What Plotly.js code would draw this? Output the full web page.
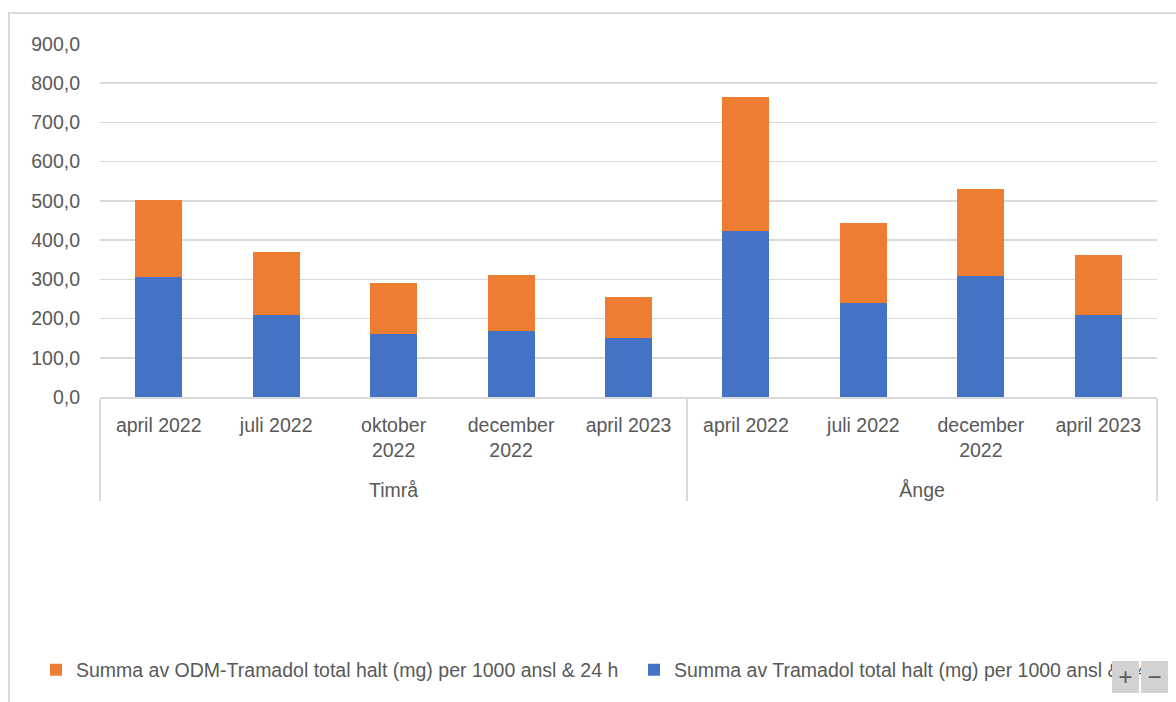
<!DOCTYPE html>
<html>
<head>
<meta charset="utf-8">
<script src="https://cdn.plot.ly/plotly-3.0.1.min.js"></script>
<style>
  html, body { margin: 0; padding: 0; background: #ffffff; }
  #wrap { position: relative; width: 1176px; height: 702px; overflow: hidden; }
  #frame { position: absolute; left: 8px; top: 12px; width: 1300px; height: 800px; border: 2px solid #d9d9d9; box-sizing: border-box; }
  #chart { position: absolute; left: 0; top: 0; width: 1176px; height: 702px; }
  .zbtn { position: absolute; top: 661px; width: 27px; height: 32px; background: #d2d2d2;
          color: #5a5a5a; font: 24px "Liberation Sans", Arial, sans-serif; line-height: 32px; text-align: center; }
</style>
</head>
<body>
<div id="wrap">
  <div id="frame"></div>
  <div id="chart"></div>
  <div class="zbtn" style="left:1112px;">+</div>
  <div class="zbtn" style="left:1141px;">−</div>
</div>
<script>
// Data
const sites = ['Timrå', 'Timrå', 'Timrå', 'Timrå', 'Timrå', 'Ånge', 'Ånge', 'Ånge', 'Ånge'];
const periods = ['april 2022', 'juli 2022', 'oktober<br>2022', 'december<br>2022', 'april 2023',
                 'april 2022', 'juli 2022', 'december<br>2022', 'april 2023'];
const tramadol = [306, 209, 161, 168, 150, 423, 239, 309, 209];
const odmTramadol = [196, 161, 130, 143, 105, 343, 204, 222, 152];
const seriesNames = [
  'Summa av Tramadol total halt (mg) per 1000 ansl & 24 h',
  'Summa av ODM-Tramadol total halt (mg) per 1000 ansl & 24 h'
];
const yTicks = [0, 100, 200, 300, 400, 500, 600, 700, 800, 900];

const fontFam = '"Liberation Sans", Arial, sans-serif';
const textCol = '#595959';
const fs = 19.5;

// leave a blank line under the two-line labels so the group row sits lower, as in the reference
const periodLabels = periods.map(p => p.indexOf('<br>') >= 0 ? p + '<br>&nbsp;' : p);

const traces = [
  { type: 'bar', name: seriesNames[0], x: [sites, periodLabels], y: tramadol, legend: 'legend2',
    marker: { color: '#4472C4', line: { width: 0 } }, hoverinfo: 'y' },
  { type: 'bar', name: seriesNames[1], x: [sites, periodLabels], y: odmTramadol, legend: 'legend',
    marker: { color: '#ED7D31', line: { width: 0 } }, hoverinfo: 'y' }
];

const legendBase = {
  orientation: 'h', xref: 'container', yref: 'container',
  xanchor: 'left', y: 1 - 670 / 702, yanchor: 'middle',
  font: { family: fontFam, size: fs, color: textCol },
  itemwidth: 30, bgcolor: 'rgba(0,0,0,0)'
};

const layout = {
  width: 1176, height: 702,
  paper_bgcolor: 'rgba(0,0,0,0)', plot_bgcolor: 'rgba(0,0,0,0)',
  margin: { l: 100, r: 19, t: 44, b: 305, pad: 0 },
  barmode: 'stack', bargap: 0.6,
  separators: ', ',
  font: { family: fontFam, size: fs, color: textCol },
  showlegend: true,
  legend: Object.assign({}, legendBase, { x: 36 / 1176 }),
  legend2: Object.assign({}, legendBase, { x: 634 / 1176 }),
  xaxis: {
    type: 'multicategory', automargin: false,
    showline: true, linecolor: '#d9d9d9', linewidth: 1.5,
    showgrid: false, ticks: '',
    ticklabelstandoff: 10,
    showdividers: true, dividercolor: '#d9d9d9', dividerwidth: 1.5,
    tickfont: { family: fontFam, size: fs, color: textCol }
  },
  yaxis: {
    range: [0, 900], tickvals: yTicks, tickformat: '.1f', automargin: false,
    showgrid: true, gridcolor: '#d9d9d9', gridwidth: 1.5,
    zeroline: false, showline: false, ticks: '',
    ticklabelstandoff: 19,
    tickfont: { family: fontFam, size: fs, color: textCol }
  }
};

Plotly.newPlot('chart', traces, layout, { displayModeBar: false, staticPlot: true });
</script>
</body>
</html>
